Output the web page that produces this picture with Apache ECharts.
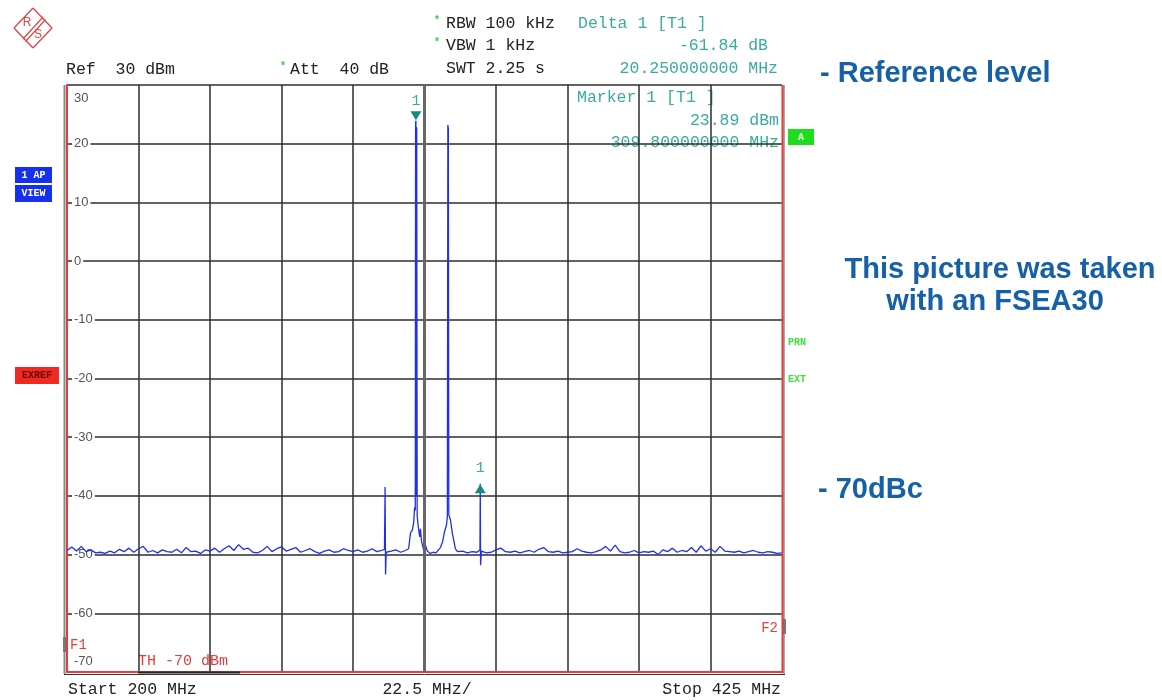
<!DOCTYPE html>
<html><head><meta charset="utf-8">
<script src="https://cdn.jsdelivr.net/npm/echarts@6/dist/echarts.min.js"></script>
<style>html,body{margin:0;padding:0;background:#fff}#c{width:1162px;height:700px}</style>
</head><body><div id="c"></div>
<script>
// ---- data ----
const startMHz = 200, stopMHz = 425, centerMHz = 312.5;
const refLevel = 30, bottomLevel = -70, dbPerDiv = 10;
const divisions = 10;
const noiseStepMHz = 1.5;
const noiseLevels = [
  -49.3,-48.7,-49.4,-48.6,-49.5,-49.2,-49.7,-49.6,-49.8,-49.4,
  -49.7,-49.1,-49.5,-48.9,-49.6,-49.0,-48.6,-49.6,-49.3,-49.7,
  -49.2,-49.5,-49.6,-49.1,-49.7,-48.8,-49.5,-49.4,-49.8,-49.2,
  -49.4,-48.9,-49.6,-49.0,-48.5,-49.3,-48.3,-49.1,-48.9,-49.6,
  -49.7,-49.3,-48.6,-49.5,-49.0,-48.7,-49.4,-49.1,-48.8,-49.6,
  -49.3,-49.0,-49.5,-49.8,-49.4,-49.2,-49.6,-49.5,-49.0,-49.3,
  -49.5,-49.2,-49.6,-49.4,-49.0,-49.5,-49.3,-49.6,-49.4,-49.2,
  -49.6,-49.3,-49.5,-49.4,-49.6,-49.5,-49.3,-49.6,-49.4,-49.5,
  -49.5,-49.4,-49.6,-49.4,-49.7,-49.5,-49.6,-49.5,-49.7,-49.6,
  -49.2,-48.9,-49.5,-49.6,-49.4,-49.7,-49.5,-49.3,-49.6,-49.1,
  -48.8,-49.5,-49.6,-49.4,-49.7,-49.6,-49.5,-49.0,-49.4,-49.6,
  -49.7,-49.5,-49.2,-48.6,-49.4,-48.4,-49.5,-49.7,-49.6,-49.3,
  -49.7,-49.5,-49.6,-49.4,-50.0,-49.2,-49.5,-48.9,-49.6,-49.3,
  -49.5,-48.8,-49.6,-48.5,-49.4,-49.0,-49.6,-48.6,-49.4,-49.5,
  -49.6,-49.4,-49.7,-49.5,-49.3,-49.6,-49.7,-49.5,-49.6,-49.8,
  -49.7
];
const detailRanges = [[299.0, 301.5], [306.5, 323.5], [329.0, 331.0]];
const spikeA = [[299.4,-49.4],[299.9,-49.1],[300.1,-38.5],[300.25,-53.4],[300.45,-49.6],[301.0,-49.3]];
const carriers = [
  [306.8,-49.6],[307.5,-49.0],[308.1,-46.3],[308.7,-45.8],[309.1,-44.5],[309.4,-41.9],[309.6,-42.5],
  [309.7,23.5],[309.8,23.89],[309.9,-40.0],[310.05,22.8],[310.2,-43.5],[310.6,-45.5],[311.0,-47.0],
  [311.2,-45.6],[311.6,-47.8],[312.2,-49.2],[312.8,-48.4],[313.4,-49.4],[314.3,-49.8],[315.2,-49.6],
  [316.1,-49.7],[316.9,-49.2],[317.5,-48.8],[318.2,-47.8],[318.8,-46.1],[319.4,-45.0],[319.7,-43.5],
  [319.85,23.2],[320.0,22.5],[320.15,-43.2],[320.7,-44.2],[321.3,-46.5],[321.8,-47.8],[322.2,-49.0],
  [322.9,-49.5],[323.4,-49.7]
];
const spikeB = [[329.6,-49.5],[329.95,-49.2],[330.05,-37.95],[330.15,-51.8],[330.4,-49.4],[330.9,-49.7]];
const marker1 = [309.8, 23.89];      // MHz, dBm
const delta1 = [20.25, -61.84];      // MHz, dB
const xLabels = ['Start 200 MHz', '22.5 MHz/', 'Stop 425 MHz'];

// ---- build trace ----
const trace = [];
noiseLevels.forEach((v, i) => {
  const f = startMHz + i * noiseStepMHz;
  if (!detailRanges.some(r => f > r[0] && f < r[1])) trace.push([f, v]);
});
trace.push(...spikeA, ...carriers, ...spikeB);
trace.sort((a, b) => a[0] - b[0]);
const deltaPos = [marker1[0] + delta1[0], +(marker1[1] + delta1[1]).toFixed(2)];

// ---- styles ----
const MONO = "'Liberation Mono','Courier New',monospace";
const SANS = "'Liberation Sans',Arial,sans-serif";
const TEAL = '#3aab9f';
const RED = '#ec3b36';
function T(text, x, y, fill, font, align, extra) {
  return Object.assign({type: 'text', x: x, y: y, silent: true,
    style: {text: text, fill: fill, font: font, textAlign: align || 'left', textVerticalAlign: 'middle'}}, extra || {});
}
function L(x1, y1, x2, y2, color, w, z) {
  return {type: 'line', silent: true, z: z || 0, shape: {x1, y1, x2, y2}, style: {stroke: color, lineWidth: w}};
}
function Box(x, y, w, h, fill) {
  return {type: 'rect', silent: true, shape: {x, y, width: w, height: h}, style: {fill: fill}};
}
const F16 = '16.5px ' + MONO;
const LOGO = '#d9464a';
const graphics = [
  // logo
  L(33, 8, 52, 28, LOGO, 1.3), L(52, 28, 33, 48, LOGO, 1.3), L(33, 48, 14, 28, LOGO, 1.3), L(14, 28, 33, 8, LOGO, 1.3),
  L(43, 17, 23, 39, LOGO, 1.2), L(45.5, 19.5, 25.5, 41.5, LOGO, 1.2),
  T('R', 27, 23, LOGO, '12px ' + SANS, 'center'),
  T('S', 38, 35, LOGO, '12px ' + SANS, 'center'),
  // header
  T('Ref  30 dBm', 66, 70, '#222', F16),
  T('*', 283, 66, '#33cc33', 'bold 10px ' + MONO, 'center'),
  T('Att  40 dB', 290, 70, '#222', F16),
  T('*', 437, 20, '#33cc33', 'bold 10px ' + MONO, 'center'),
  T('RBW 100 kHz', 446, 24, '#222', F16),
  T('*', 437, 42, '#33cc33', 'bold 10px ' + MONO, 'center'),
  T('VBW 1 kHz', 446, 46, '#222', F16),
  T('SWT 2.25 s', 446, 69, '#222', F16),
  T('Delta 1 [T1 ]', 578, 24, TEAL, F16),
  T(delta1[1].toFixed(2) + ' dB', 768, 46, TEAL, F16, 'right'),
  T(delta1[0].toFixed(9) + ' MHz', 778, 69, TEAL, F16, 'right'),
  // marker readout inside the plot
  T('Marker 1 [T1 ]', 577, 98, TEAL, F16),
  T(marker1[1].toFixed(2) + ' dBm', 779, 121, TEAL, F16, 'right'),
  T(marker1[0].toFixed(9) + ' MHz', 779, 143, TEAL, F16, 'right'),
  // side boxes
  Box(788, 129, 26, 16, '#1fdc1f'), T('A', 801, 137, '#e8ffe8', 'bold 10px ' + MONO, 'center'),
  T('PRN', 788, 342, '#3ee03e', 'bold 10px ' + MONO), T('EXT', 788, 379, '#3ee03e', 'bold 10px ' + MONO),
  Box(15, 167, 37, 16, '#1530ee'), T('1 AP', 33.5, 175, '#fff', 'bold 10px ' + MONO, 'center'),
  Box(15, 185, 37, 17, '#1530ee'), T('VIEW', 33.5, 193.5, '#fff', 'bold 10px ' + MONO, 'center'),
  Box(15, 367, 44, 17, '#ee2a22'), T('EXREF', 37, 375.5, '#6a0000', 'bold 10px ' + MONO, 'center'),
  // frame
  L(64.5, 85, 64.5, 674, '#888', 2),
  Box(63, 637, 3, 15, '#777'),
  L(782.5, 85, 782.5, 673, RED, 2, 5),
  L(784, 85, 784, 674, '#555', 1),
  Box(783, 619, 3, 15, '#777'),
  L(64, 674.5, 785, 674.5, '#333', 1),
  L(138, 672.5, 240, 672.5, '#222', 2, 5),
  T('F1', 70, 645, RED, '14px ' + MONO),
  T('F2', 778, 628, RED, '14px ' + MONO, 'right'),
  T('TH -70 dBm', 138, 661, RED, '15px ' + MONO),
  // bottom labels
  T(xLabels[0], 68, 690, '#222', F16),
  T(xLabels[1], 427, 690, '#222', F16, 'center'),
  T(xLabels[2], 781, 690, '#222', F16, 'right'),
  // slide annotations
  T('- Reference level', 820, 74, '#1660a8', 'bold 29px ' + SANS),
  T('This picture was taken', 1000, 270, '#1660a8', 'bold 29px ' + SANS, 'center'),
  T('with an FSEA30', 995, 302, '#1660a8', 'bold 29px ' + SANS, 'center'),
  T('- 70dBc', 818, 490, '#1660a8', 'bold 29px ' + SANS)
];

const chart = echarts.init(document.getElementById('c'), null, {renderer: 'canvas'});
const GRIDC = '#2c2c2c';
const labelStyle = {color: '#555', fontFamily: SANS, fontSize: 13};
chart.setOption({
  animation: false,
  backgroundColor: '#fff',
  grid: {left: 67, top: 85, width: 715, height: 587, containLabel: false},
  xAxis: [
    {type: 'value', min: startMHz, max: stopMHz, position: 'bottom',
     axisLine: {show: true, onZero: false, lineStyle: {color: RED, width: 2}},
     axisTick: {show: false}, axisLabel: {show: false}, splitLine: {show: false}},
    {type: 'value', min: 0, max: divisions, interval: 1, position: 'top',
     axisLine: {show: false}, axisTick: {show: false}, axisLabel: {show: false},
     splitLine: {show: true, showMinLine: false, showMaxLine: false, lineStyle: {color: GRIDC, width: 1.5}}}
  ],
  yAxis: [
    {type: 'value', min: bottomLevel, max: refLevel, interval: dbPerDiv, z: 0,
     axisLine: {show: true, onZero: false, lineStyle: {color: RED, width: 2}},
     axisTick: {show: false}, axisLabel: {show: false},
     splitLine: {show: true, showMinLine: false, lineStyle: {color: GRIDC, width: 1.5}}},
    {type: 'value', min: bottomLevel, max: refLevel, interval: dbPerDiv, position: 'left', z: 1,
     axisLine: {show: false}, axisTick: {show: false}, splitLine: {show: false},
     axisLabel: {show: true, inside: true, margin: 5, color: '#555', fontFamily: SANS, fontSize: 13,
       formatter: function (v) {
         if (v === refLevel) return '{mx|' + v + '}';
         if (v === bottomLevel) return '{mn|' + v + '}';
         return '{n|' + v + '}';
       },
       rich: {
         n: Object.assign({backgroundColor: '#fff', padding: [0, 2, 0, 2]}, labelStyle),
         mx: Object.assign({padding: [26, 2, 0, 2]}, labelStyle),
         mn: Object.assign({padding: [0, 2, 22, 2]}, labelStyle)
       }}}
  ],
  series: [{
    type: 'line', xAxisIndex: 0, yAxisIndex: 0, data: trace, symbol: 'none', showSymbol: false,
    sampling: null, z: 2, silent: true,
    lineStyle: {color: '#1f2ff2', width: 1.3},
    markLine: {silent: true, symbol: 'none', label: {show: false}, animation: false,
      lineStyle: {color: '#666', width: 3, type: 'solid'}, data: [{xAxis: centerMHz}]},
    markPoint: {silent: true, animation: false, data: [
      {coord: marker1, symbol: 'triangle', symbolRotate: 180, symbolSize: [11, 9], symbolOffset: [0, -5],
       itemStyle: {color: '#168a80'},
       label: {show: true, formatter: '1', position: 'top', distance: 3, color: TEAL, fontFamily: MONO, fontSize: 15}},
      {coord: deltaPos, symbol: 'triangle', symbolSize: [11, 9], symbolOffset: [0, 5],
       itemStyle: {color: '#168a80'},
       label: {show: true, formatter: '1', position: 'top', distance: 9, color: TEAL, fontFamily: MONO, fontSize: 15}}
    ]}
  }],
  graphic: graphics
});
</script>
</body></html>
